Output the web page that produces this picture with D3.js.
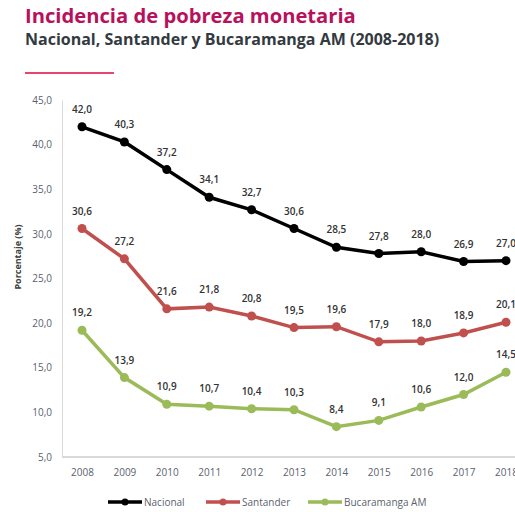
<!DOCTYPE html>
<html>
<head>
<meta charset="utf-8">
<script src="https://cdn.jsdelivr.net/npm/d3@7"></script>
<style>
  body { margin: 0; background: #fff; font-family: "Open Sans", sans-serif; }
</style>
</head>
<body>
<svg width="515" height="512"></svg>
<script>
var years = [2008, 2009, 2010, 2011, 2012, 2013, 2014, 2015, 2016, 2017, 2018];
var nacional = [42.0, 40.3, 37.2, 34.1, 32.7, 30.6, 28.5, 27.8, 28.0, 26.9, 27.0];
var santander = [30.6, 27.2, 21.6, 21.8, 20.8, 19.5, 19.6, 17.9, 18.0, 18.9, 20.1];
var bucaramanga = [19.2, 13.9, 10.9, 10.7, 10.4, 10.3, 8.4, 9.1, 10.6, 12.0, 14.5];
var yTicks = [5, 10, 15, 20, 25, 30, 35, 40, 45];
var seriesNames = ["Nacional", "Santander", "Bucaramanga AM"];
var seriesColors = ["#000000", "#c0504d", "#9bbb59"];

var series = [nacional, santander, bucaramanga].map(function(v, i) {
  return { name: seriesNames[i], color: seriesColors[i], values: v };
});

var svg = d3.select("svg");
var fmt = function(d) { return d3.format(".1f")(d).replace(".", ","); };

// titles
svg.append("text")
    .attr("x", 25).attr("y", 23)
    .attr("font-size", 20.2).attr("font-weight", "bold")
    .attr("fill", "#b8115c")
    .text("Incidencia de pobreza monetaria");
svg.append("text")
    .attr("x", 25).attr("y", 45)
    .attr("font-size", 16).attr("font-weight", "bold")
    .attr("fill", "#333a40")
    .text("Nacional, Santander y Bucaramanga AM (2008-2018)");
svg.append("line")
    .attr("x1", 25).attr("x2", 114).attr("y1", 73).attr("y2", 73)
    .attr("stroke", "#e8456e").attr("stroke-width", 2);

var x = d3.scalePoint().domain(years).range([82, 506]);
var y = d3.scaleLinear().domain([5, 45]).range([457, 100]);

// axes
var yAxis = svg.append("g")
    .attr("transform", "translate(62,0)")
    .call(d3.axisLeft(y).tickValues(yTicks).tickSize(0).tickPadding(10).tickFormat(fmt));
yAxis.select(".domain").attr("stroke", "#d9d9d9");
yAxis.selectAll("text").attr("font-size", 10).attr("fill", "#5b5f6e")
    .attr("font-family", "Open Sans, sans-serif");

var xAxis = svg.append("g")
    .attr("transform", "translate(0,457)")
    .call(d3.axisBottom(x).tickSize(0).tickPadding(12));
xAxis.select(".domain").attr("d", "M62,0H515").attr("stroke", "#d9d9d9").attr("stroke-width", 2);
xAxis.selectAll("text").attr("font-size", 10).attr("fill", "#5b5f6e")
    .attr("font-family", "Open Sans, sans-serif");

svg.append("text")
    .attr("transform", "translate(21,257) rotate(-90)")
    .attr("text-anchor", "middle")
    .attr("font-size", 9).attr("font-weight", "bold")
    .attr("fill", "#404040")
    .text("Porcentaje (%)");

var line = d3.line()
    .x(function(d, i) { return x(years[i]); })
    .y(function(d) { return y(d); });

var g = svg.selectAll(".series")
  .data(series)
  .enter().append("g")
    .attr("class", "series");

g.append("path")
    .attr("d", function(d) { return line(d.values); })
    .attr("fill", "none")
    .attr("stroke", function(d) { return d.color; })
    .attr("stroke-width", 3.5);

g.selectAll("circle")
  .data(function(d) { return d.values.map(function(v, i) { return { v: v, i: i, c: d.color }; }); })
  .enter().append("circle")
    .attr("cx", function(d) { return x(years[d.i]); })
    .attr("cy", function(d) { return y(d.v); })
    .attr("r", 4.5)
    .attr("fill", function(d) { return d.c; });

g.selectAll(".lbl")
  .data(function(d) { return d.values.map(function(v, i) { return { v: v, i: i }; }); })
  .enter().append("text")
    .attr("class", "lbl")
    .attr("x", function(d) { return x(years[d.i]); })
    .attr("y", function(d) { return y(d.v) - 14; })
    .attr("text-anchor", "middle")
    .attr("font-size", 10).attr("font-weight", 600)
    .attr("fill", "#333")
    .text(function(d) { return fmt(d.v); });

// legend
var legendX = [108, 206, 308];
var lg = svg.selectAll(".legend")
  .data(series)
  .enter().append("g")
    .attr("class", "legend")
    .attr("transform", function(d, i) { return "translate(" + legendX[i] + ",502)"; });
lg.append("line")
    .attr("x1", 0).attr("x2", 34)
    .attr("stroke", function(d) { return d.color; })
    .attr("stroke-width", 3.5);
lg.append("circle")
    .attr("cx", 17).attr("r", 3.5)
    .attr("fill", function(d) { return d.color; });
lg.append("text")
    .attr("x", 36).attr("y", 3.5)
    .attr("font-size", 10).attr("fill", "#5b5f6e")
    .text(function(d) { return d.name; });
</script>
</body>
</html>
